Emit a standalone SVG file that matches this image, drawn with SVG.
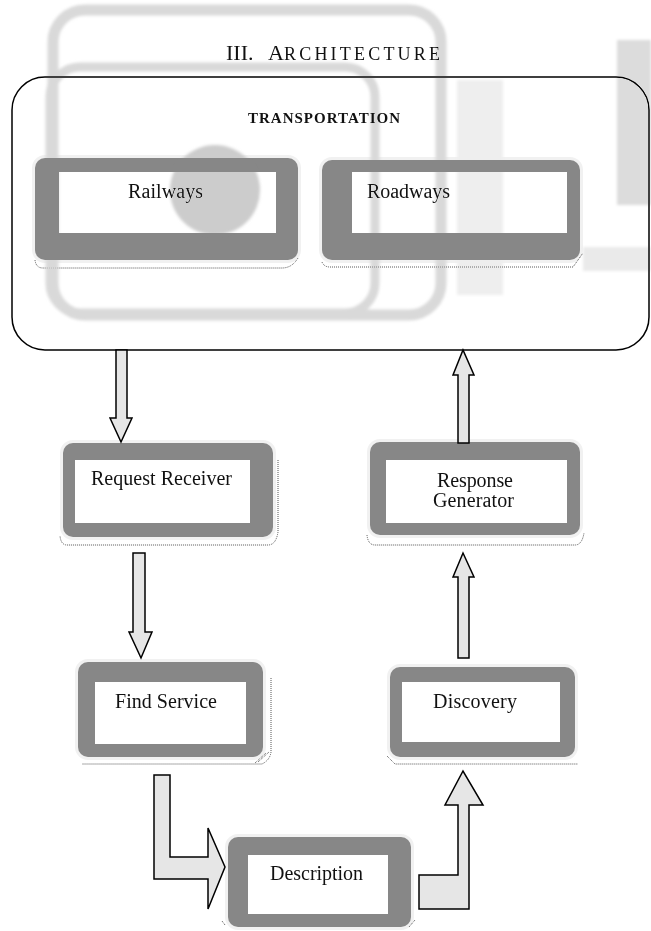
<svg xmlns="http://www.w3.org/2000/svg" width="651" height="931" viewBox="0 0 651 931">
<style>
text { font-family: "Liberation Serif", "Times New Roman", serif; fill: #111; }
.lbl { font-size: 20px; }
.halo { fill: #f1f1f1; }
.frame { fill: #878787; }
.inner { fill: #ffffff; }
.shadow { fill: none; stroke: #555; stroke-width: 1; stroke-dasharray: 1 1; }
.arrow { fill: #e6e6e6; stroke: #000; stroke-width: 1.5; stroke-linejoin: miter; }
.wm { fill: none; stroke: #d9d9d9; }
</style>
<defs>
<filter id="soft" x="-10%" y="-10%" width="120%" height="120%"><feGaussianBlur stdDeviation="1.5"/></filter>
</defs>
<rect width="651" height="931" fill="#fff"/>

<text x="226" y="60" font-size="22">III.</text>
<text x="268" y="60" font-size="22">A</text>
<text x="284" y="60" font-size="18" textLength="156">RCHITECTURE</text>

<g id="transportation">
<rect x="12" y="77" width="637" height="273" rx="33" fill="none" stroke="#000" stroke-width="1.5"/>
<text x="248" y="123" font-size="15" font-weight="bold" textLength="152">TRANSPORTATION</text>
</g>

<g id="railways">
<rect class="halo" x="32" y="155" width="269" height="108" rx="13"/>
<rect class="frame" x="35" y="158" width="263" height="102" rx="10"/>
<rect class="inner" x="59" y="172" width="217" height="61"/>
<path class="shadow" d="M35,260 Q36,268 43,268 H282 Q292,268 298,258"/>
<text class="lbl" x="128" y="198" textLength="75">Railways</text>
</g>

<g id="roadways">
<rect class="halo" x="319" y="157" width="264" height="106" rx="13"/>
<rect class="frame" x="322" y="160" width="258" height="100" rx="10"/>
<rect class="inner" x="352" y="172" width="215" height="61"/>
<path class="shadow" d="M322,262 Q324,267 330,267 H573 L583,253"/>
<text class="lbl" x="367" y="198" textLength="83">Roadways</text>
</g>

<g id="request-receiver">
<rect class="halo" x="60" y="440" width="216" height="100" rx="13"/>
<rect class="frame" x="63" y="443" width="210" height="94" rx="10"/>
<rect class="inner" x="75" y="460" width="175" height="63"/>
<path class="shadow" d="M278,460 V532 Q276,545 268,545 H67 Q61,545 60,536"/>
<text class="lbl" x="91" y="485" textLength="141">Request Receiver</text>
</g>

<g id="response-generator">
<rect class="halo" x="367" y="439" width="216" height="99" rx="13"/>
<rect class="frame" x="370" y="442" width="210" height="93" rx="10"/>
<rect class="inner" x="386" y="460" width="181" height="63"/>
<path class="shadow" d="M367,535 Q368,545 375,545 H575 Q582,545 584,533"/>
<text class="lbl" x="437" y="487" textLength="76">Response</text>
<text class="lbl" x="433" y="507" textLength="81">Generator</text>
</g>

<g id="find-service">
<rect class="halo" x="75" y="659" width="191" height="101" rx="13"/>
<rect class="frame" x="78" y="662" width="185" height="95" rx="10"/>
<rect class="inner" x="95" y="682" width="151" height="62"/>
<path class="shadow" d="M271,678 V752 Q270,760 262,764 H82"/>
<path class="shadow" d="M258,762 L269,752 M255,763 L266,753"/>
<text class="lbl" x="115" y="708" textLength="102">Find Service</text>
</g>

<g id="discovery">
<rect class="halo" x="387" y="664" width="191" height="96" rx="13"/>
<rect class="frame" x="390" y="667" width="185" height="90" rx="10"/>
<rect class="inner" x="402" y="682" width="158" height="60"/>
<path class="shadow" d="M387,756 L395,764 H578"/>
<text class="lbl" x="433" y="708" textLength="84">Discovery</text>
</g>

<g id="description">
<rect class="halo" x="225" y="834" width="189" height="96" rx="13"/>
<rect class="frame" x="228" y="837" width="183" height="90" rx="10"/>
<rect class="inner" x="248" y="855" width="140" height="59"/>
<path class="shadow" d="M222,921 L225,925 M415,920 L409,927"/>
<text class="lbl" x="270" y="880" textLength="93">Description</text>
</g>

<g id="connectors">
<polygon class="arrow" points="116,350 127,350 127,418 132,418 121,442 110,418 116,418"/>
<polygon class="arrow" points="133,553 145,553 145,632 152,632 141,658 129,632 133,632"/>
<polygon class="arrow" points="154,775 170,775 170,857 208,857 208,828 225,867 208,909 208,879 154,879"/>
<polygon class="arrow" points="419,875 458,875 458,805 445,805 463,771 483,805 469,805 469,909 419,909"/>
<polygon class="arrow" points="458,658 469,658 469,577 474,577 463,553 453,577 458,577"/>
<polygon class="arrow" points="458,443 469,443 469,375 474,375 463,350 453,375 458,375"/>
</g>

<g id="watermark" style="mix-blend-mode:darken" filter="url(#soft)">
<rect class="wm" x="53" y="10" width="388" height="305" rx="32" stroke-width="11"/>
<rect class="wm" x="50" y="67" width="325" height="246" rx="30" stroke-width="9" stroke="#dedede"/>
<circle cx="215" cy="190" r="45" fill="#cccccc"/>
<rect x="457" y="80" width="46" height="215" fill="#eeeeee"/>
<rect x="617" y="40" width="34" height="165" fill="#dcdcdc"/>
<rect x="583" y="247" width="68" height="24" fill="#eaeaea"/>
</g>
</svg>
